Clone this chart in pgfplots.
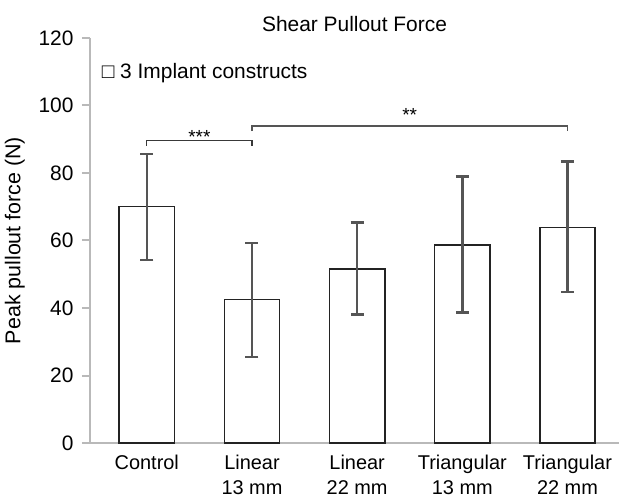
\documentclass[border=0pt]{standalone}
\usepackage{pgfplots}
\usepackage{pgfplotstable}
\pgfplotsset{compat=1.18}
\usepackage{fontspec}
\setmainfont{Liberation Sans}
\definecolor{axisgray}{RGB}{185,185,185}
\definecolor{errgray}{RGB}{85,85,85}
\definecolor{bardark}{RGB}{35,35,35}
\pgfplotstableread{
x y ep em
0 70.1 15.6 15.9
1 42.5 16.7 17.0
2 51.5 13.9 13.5
3 58.6 20.3 20.0
4 63.8 19.6 19.1
}\datatable
\begin{document}
\begin{tikzpicture}
\begin{axis}[
  name=ax,
  scale only axis, width=529bp, height=405bp,
  xmin=-0.54, xmax=4.49, ymin=0, ymax=120,
  axis x line=bottom, axis y line=left,
  axis line style={-, axisgray, line width=2.2bp},
  xtick={0,1,2,3,4},
  xticklabels={Control, Linear\\13 mm, Linear\\22 mm, Triangular\\13 mm, Triangular\\22 mm},
  x tick label style={align=center, font=\fontsize{20}{25}\selectfont, yshift=-1bp},
  ytick={0,20,...,120},
  y tick label style={font=\fontsize{21}{24}\selectfont, xshift=-5bp},
  /pgf/number format/assume math mode=true,
  tick align=outside, major tick length=8bp,
  y tick style={axisgray, line width=2bp},
  x tick style={draw=none},
  ylabel={Peak pullout force (N)},
  ylabel style={font=\fontsize{21.5}{24}\selectfont, yshift=7bp},
  title={Shear Pullout Force},
  title style={font=\fontsize{21}{24}\selectfont, yshift=-3bp},
  clip=false,
]
\addplot[ybar, bar width=0.525, fill=white, draw=bardark, line width=1.6bp,
  error bars/.cd, y dir=both, y explicit,
  error bar style={errgray, line width=2.5bp},
  error mark options={rotate=90, mark size=6.5bp, errgray, line width=2.5bp}]
  table[x=x, y=y, y error plus=ep, y error minus=em] {\datatable};
% significance brackets
\addplot[bardark!90, line width=1.2bp, mark=none] coordinates {(0,88) (0,89.7) (1,89.7) (1,88)};
\addplot[errgray, line width=1.5bp, mark=none] coordinates {(1,92.4) (1,93.9) (4,93.9) (4,92.4)};
\node[font=\fontsize{19}{20}\selectfont, anchor=base, inner sep=0pt] at (axis cs:0.5,88.6) {***};
\node[font=\fontsize{19}{20}\selectfont, anchor=base, inner sep=0pt] at (axis cs:2.5,95.4) {**};
\node[anchor=west, font=\fontsize{21}{24}\selectfont, inner sep=0pt] at (axis cs:-0.43,109.7) {□ 3 Implant constructs};
\end{axis}
\pgfresetboundingbox
\path[use as bounding box] ([xshift=-90bp, yshift=-59bp]ax.south west) rectangle ([yshift=38bp]ax.north east);
\end{tikzpicture}
\end{document}
